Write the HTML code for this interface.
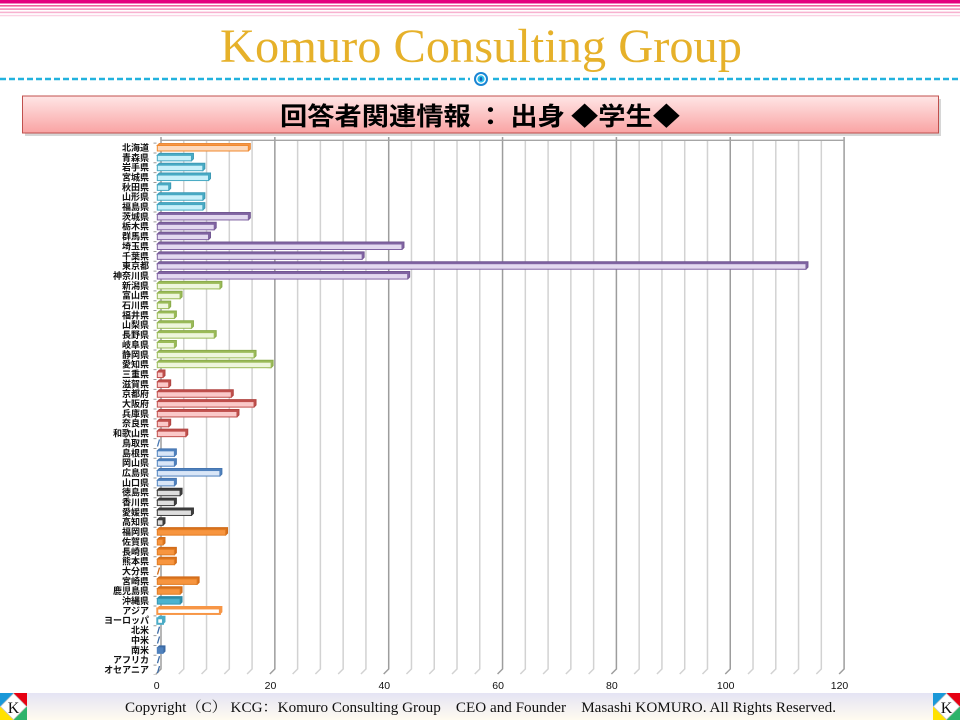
<!DOCTYPE html>
<html><head><meta charset="utf-8"><style>
html,body{margin:0;padding:0;background:#fff;}
svg{display:block;}
.lb text{font-family:"Liberation Sans","Noto Sans CJK JP",sans-serif;font-size:9px;font-weight:bold;fill:#111;text-anchor:end;}
.hk path{fill:#f79646;stroke:#e98a3a;stroke-width:1}.hk rect{fill:#fdd9bd;stroke:#f08a30;stroke-width:1}
.th path{fill:#4bacc6;stroke:#3c9ab5;stroke-width:1}.th rect{fill:#c9f0fa;stroke:#46a8c2;stroke-width:1}
.kt path{fill:#8064a2;stroke:#735893;stroke-width:1}.kt rect{fill:#e3d9f0;stroke:#8064a2;stroke-width:1}
.cb path{fill:#9bbb59;stroke:#8aab4a;stroke-width:1}.cb rect{fill:#eef6dc;stroke:#9bbb59;stroke-width:1}
.kk path{fill:#c0504d;stroke:#b04542;stroke-width:1}.kk rect{fill:#fbc9c9;stroke:#c0504d;stroke-width:1}
.cg path{fill:#4f81bd;stroke:#4575b0;stroke-width:1}.cg rect{fill:#d9e6f7;stroke:#4f81bd;stroke-width:1}
.sk path{fill:#404040;stroke:#333;stroke-width:1}.sk rect{fill:#dedede;stroke:#3a3a3a;stroke-width:1}
.ks path{fill:#d8701c;stroke:#d06c1a;stroke-width:1}.ks rect{fill:#f7953f;stroke:#e27d24;stroke-width:1}
.ok path{fill:#2f8aa6;stroke:#2f8aa6;stroke-width:1}.ok rect{fill:#4bb3d0;stroke:#3796b2;stroke-width:1}
.as path{fill:#f79646;stroke:#f79646;stroke-width:1}.as rect{fill:#fff;stroke:#f79646;stroke-width:2}
.eu path{fill:#4bacc6;stroke:#4bacc6;stroke-width:1}.eu rect{fill:#fff;stroke:#4bacc6;stroke-width:2}
.am path{fill:#3b6aa5;stroke:#3b6aa5;stroke-width:1}.am rect{fill:#4f81bd;stroke:#4f81bd;stroke-width:1}
.z path{fill:none;stroke-width:1.3}
</style></head><body>
<svg width="960" height="720" viewBox="0 0 960 720" xmlns="http://www.w3.org/2000/svg">
<defs>
<linearGradient id="tb" x1="0" y1="0" x2="0" y2="1"><stop offset="0" stop-color="#ffe6e6"/><stop offset="1" stop-color="#f9a3a3"/></linearGradient>
<linearGradient id="ft" x1="0" y1="0" x2="0" y2="1"><stop offset="0" stop-color="#e4e4f4"/><stop offset="1" stop-color="#fffbf0"/></linearGradient>
</defs>
<!-- header stripes -->
<rect x="0" y="0" width="960" height="3.5" fill="#e4007f"/>
<rect x="0" y="5" width="960" height="1.6" fill="#f0619f"/>
<rect x="0" y="8.3" width="960" height="1.6" fill="#f48fbb"/>
<rect x="0" y="11.6" width="960" height="1.6" fill="#f7b2d0"/>
<rect x="0" y="14.9" width="960" height="1.4" fill="#fbd2e4"/>
<!-- title -->
<text x="481" y="62" text-anchor="middle" textLength="522" lengthAdjust="spacingAndGlyphs" font-family="Liberation Serif, serif" font-size="48" fill="#e6b12a">Komuro Consulting Group</text>
<!-- dashed line -->
<line x1="0" y1="79" x2="470" y2="79" stroke="#22b2de" stroke-width="2.5" stroke-dasharray="6 3"/>
<line x1="493" y1="79" x2="960" y2="79" stroke="#22b2de" stroke-width="2.5" stroke-dasharray="6 3"/>
<circle cx="481" cy="79" r="7" fill="#1a86d4"/>
<circle cx="481" cy="79" r="5" fill="#fff"/>
<circle cx="481" cy="79" r="3.6" fill="#2cc0ea"/>
<ellipse cx="481" cy="79" rx="1.3" ry="2" fill="#1560b8"/>
<!-- title bar -->
<rect x="25" y="99" width="916" height="37" fill="#bbb" opacity="0.6"/>
<rect x="22.5" y="96" width="916" height="37" fill="url(#tb)" stroke="#c0504d" stroke-width="1"/>
<text x="480" y="125" text-anchor="middle" textLength="400" lengthAdjust="spacingAndGlyphs" font-family="Noto Sans CJK JP, sans-serif" font-size="25" font-weight="bold" fill="#000">回答者関連情報 ： 出身 ◆学生◆</text>
<!-- grid -->
<path d="M183.77,140V669l-5,5M206.54,140V669l-5,5M229.31,140V669l-5,5M252.08,140V669l-5,5M297.62,140V669l-5,5M320.39,140V669l-5,5M343.16,140V669l-5,5M365.93,140V669l-5,5M411.47,140V669l-5,5M434.24,140V669l-5,5M457.01,140V669l-5,5M479.78,140V669l-5,5M525.32,140V669l-5,5M548.09,140V669l-5,5M570.86,140V669l-5,5M593.63,140V669l-5,5M639.17,140V669l-5,5M661.94,140V669l-5,5M684.71,140V669l-5,5M707.48,140V669l-5,5M753.02,140V669l-5,5M775.79,140V669l-5,5M798.56,140V669l-5,5M821.33,140V669l-5,5" fill="none" stroke="#d2d2d2" stroke-width="1.5"/>
<path d="M161,137V669l-5,5M274.85,137V669l-5,5M388.7,137V669l-5,5M502.55,137V669l-5,5M616.4,137V669l-5,5M730.25,137V669l-5,5M844.1,137V669l-5,5" fill="none" stroke="#9d9d9d" stroke-width="1.5"/>
<line x1="161" y1="140.3" x2="844.1" y2="140.3" stroke="#a6a6a6" stroke-width="1.3"/>
<line x1="155" y1="142.6" x2="155" y2="675" stroke="#9a9a9a" stroke-width="3" stroke-dasharray="1 8.85"/>
<!-- bars -->
<g class="lb">
<g class="hk" transform="translate(0,147.5)"><text x="149" y="3.4">北海道</text><path d="M157.3,-2l2,-2h91.04v5.5l-2,2z"/><rect x="157.3" y="-2" width="91.04" height="5.5"/></g>
<g class="th" transform="translate(0,157.35)"><text x="149" y="3.4">青森県</text><path d="M157.3,-2l2,-2h34.14v5.5l-2,2z"/><rect x="157.3" y="-2" width="34.14" height="5.5"/></g>
<g class="th" transform="translate(0,167.2)"><text x="149" y="3.4">岩手県</text><path d="M157.3,-2l2,-2h45.52v5.5l-2,2z"/><rect x="157.3" y="-2" width="45.52" height="5.5"/></g>
<g class="th" transform="translate(0,177.05)"><text x="149" y="3.4">宮城県</text><path d="M157.3,-2l2,-2h51.21v5.5l-2,2z"/><rect x="157.3" y="-2" width="51.21" height="5.5"/></g>
<g class="th" transform="translate(0,186.9)"><text x="149" y="3.4">秋田県</text><path d="M157.3,-2l2,-2h11.38v5.5l-2,2z"/><rect x="157.3" y="-2" width="11.38" height="5.5"/></g>
<g class="th" transform="translate(0,196.75)"><text x="149" y="3.4">山形県</text><path d="M157.3,-2l2,-2h45.52v5.5l-2,2z"/><rect x="157.3" y="-2" width="45.52" height="5.5"/></g>
<g class="th" transform="translate(0,206.6)"><text x="149" y="3.4">福島県</text><path d="M157.3,-2l2,-2h45.52v5.5l-2,2z"/><rect x="157.3" y="-2" width="45.52" height="5.5"/></g>
<g class="kt" transform="translate(0,216.45)"><text x="149" y="3.4">茨城県</text><path d="M157.3,-2l2,-2h91.04v5.5l-2,2z"/><rect x="157.3" y="-2" width="91.04" height="5.5"/></g>
<g class="kt" transform="translate(0,226.3)"><text x="149" y="3.4">栃木県</text><path d="M157.3,-2l2,-2h56.9v5.5l-2,2z"/><rect x="157.3" y="-2" width="56.9" height="5.5"/></g>
<g class="kt" transform="translate(0,236.15)"><text x="149" y="3.4">群馬県</text><path d="M157.3,-2l2,-2h51.21v5.5l-2,2z"/><rect x="157.3" y="-2" width="51.21" height="5.5"/></g>
<g class="kt" transform="translate(0,246)"><text x="149" y="3.4">埼玉県</text><path d="M157.3,-2l2,-2h244.67v5.5l-2,2z"/><rect x="157.3" y="-2" width="244.67" height="5.5"/></g>
<g class="kt" transform="translate(0,255.85)"><text x="149" y="3.4">千葉県</text><path d="M157.3,-2l2,-2h204.84v5.5l-2,2z"/><rect x="157.3" y="-2" width="204.84" height="5.5"/></g>
<g class="kt" transform="translate(0,265.7)"><text x="149" y="3.4">東京都</text><path d="M157.3,-2l2,-2h648.66v5.5l-2,2z"/><rect x="157.3" y="-2" width="648.66" height="5.5"/></g>
<g class="kt" transform="translate(0,275.55)"><text x="149" y="3.4">神奈川県</text><path d="M157.3,-2l2,-2h250.36v5.5l-2,2z"/><rect x="157.3" y="-2" width="250.36" height="5.5"/></g>
<g class="cb" transform="translate(0,285.4)"><text x="149" y="3.4">新潟県</text><path d="M157.3,-2l2,-2h62.59v5.5l-2,2z"/><rect x="157.3" y="-2" width="62.59" height="5.5"/></g>
<g class="cb" transform="translate(0,295.25)"><text x="149" y="3.4">富山県</text><path d="M157.3,-2l2,-2h22.76v5.5l-2,2z"/><rect x="157.3" y="-2" width="22.76" height="5.5"/></g>
<g class="cb" transform="translate(0,305.1)"><text x="149" y="3.4">石川県</text><path d="M157.3,-2l2,-2h11.38v5.5l-2,2z"/><rect x="157.3" y="-2" width="11.38" height="5.5"/></g>
<g class="cb" transform="translate(0,314.95)"><text x="149" y="3.4">福井県</text><path d="M157.3,-2l2,-2h17.07v5.5l-2,2z"/><rect x="157.3" y="-2" width="17.07" height="5.5"/></g>
<g class="cb" transform="translate(0,324.8)"><text x="149" y="3.4">山梨県</text><path d="M157.3,-2l2,-2h34.14v5.5l-2,2z"/><rect x="157.3" y="-2" width="34.14" height="5.5"/></g>
<g class="cb" transform="translate(0,334.65)"><text x="149" y="3.4">長野県</text><path d="M157.3,-2l2,-2h56.9v5.5l-2,2z"/><rect x="157.3" y="-2" width="56.9" height="5.5"/></g>
<g class="cb" transform="translate(0,344.5)"><text x="149" y="3.4">岐阜県</text><path d="M157.3,-2l2,-2h17.07v5.5l-2,2z"/><rect x="157.3" y="-2" width="17.07" height="5.5"/></g>
<g class="cb" transform="translate(0,354.35)"><text x="149" y="3.4">静岡県</text><path d="M157.3,-2l2,-2h96.73v5.5l-2,2z"/><rect x="157.3" y="-2" width="96.73" height="5.5"/></g>
<g class="cb" transform="translate(0,364.2)"><text x="149" y="3.4">愛知県</text><path d="M157.3,-2l2,-2h113.8v5.5l-2,2z"/><rect x="157.3" y="-2" width="113.8" height="5.5"/></g>
<g class="kk" transform="translate(0,374.05)"><text x="149" y="3.4">三重県</text><path d="M157.3,-2l2,-2h5.69v5.5l-2,2z"/><rect x="157.3" y="-2" width="5.69" height="5.5"/></g>
<g class="kk" transform="translate(0,383.9)"><text x="149" y="3.4">滋賀県</text><path d="M157.3,-2l2,-2h11.38v5.5l-2,2z"/><rect x="157.3" y="-2" width="11.38" height="5.5"/></g>
<g class="kk" transform="translate(0,393.75)"><text x="149" y="3.4">京都府</text><path d="M157.3,-2l2,-2h73.97v5.5l-2,2z"/><rect x="157.3" y="-2" width="73.97" height="5.5"/></g>
<g class="kk" transform="translate(0,403.6)"><text x="149" y="3.4">大阪府</text><path d="M157.3,-2l2,-2h96.73v5.5l-2,2z"/><rect x="157.3" y="-2" width="96.73" height="5.5"/></g>
<g class="kk" transform="translate(0,413.45)"><text x="149" y="3.4">兵庫県</text><path d="M157.3,-2l2,-2h79.66v5.5l-2,2z"/><rect x="157.3" y="-2" width="79.66" height="5.5"/></g>
<g class="kk" transform="translate(0,423.3)"><text x="149" y="3.4">奈良県</text><path d="M157.3,-2l2,-2h11.38v5.5l-2,2z"/><rect x="157.3" y="-2" width="11.38" height="5.5"/></g>
<g class="kk" transform="translate(0,433.15)"><text x="149" y="3.4">和歌山県</text><path d="M157.3,-2l2,-2h28.45v5.5l-2,2z"/><rect x="157.3" y="-2" width="28.45" height="5.5"/></g>
<g class="cg z" transform="translate(0,443)"><text x="149" y="3.4">鳥取県</text><path d="M157.5,3.5l2,-7" stroke="#4f81bd"/></g>
<g class="cg" transform="translate(0,452.85)"><text x="149" y="3.4">島根県</text><path d="M157.3,-2l2,-2h17.07v5.5l-2,2z"/><rect x="157.3" y="-2" width="17.07" height="5.5"/></g>
<g class="cg" transform="translate(0,462.7)"><text x="149" y="3.4">岡山県</text><path d="M157.3,-2l2,-2h17.07v5.5l-2,2z"/><rect x="157.3" y="-2" width="17.07" height="5.5"/></g>
<g class="cg" transform="translate(0,472.55)"><text x="149" y="3.4">広島県</text><path d="M157.3,-2l2,-2h62.59v5.5l-2,2z"/><rect x="157.3" y="-2" width="62.59" height="5.5"/></g>
<g class="cg" transform="translate(0,482.4)"><text x="149" y="3.4">山口県</text><path d="M157.3,-2l2,-2h17.07v5.5l-2,2z"/><rect x="157.3" y="-2" width="17.07" height="5.5"/></g>
<g class="sk" transform="translate(0,492.25)"><text x="149" y="3.4">徳島県</text><path d="M157.3,-2l2,-2h22.76v5.5l-2,2z"/><rect x="157.3" y="-2" width="22.76" height="5.5"/></g>
<g class="sk" transform="translate(0,502.1)"><text x="149" y="3.4">香川県</text><path d="M157.3,-2l2,-2h17.07v5.5l-2,2z"/><rect x="157.3" y="-2" width="17.07" height="5.5"/></g>
<g class="sk" transform="translate(0,511.95)"><text x="149" y="3.4">愛媛県</text><path d="M157.3,-2l2,-2h34.14v5.5l-2,2z"/><rect x="157.3" y="-2" width="34.14" height="5.5"/></g>
<g class="sk" transform="translate(0,521.8)"><text x="149" y="3.4">高知県</text><path d="M157.3,-2l2,-2h5.69v5.5l-2,2z"/><rect x="157.3" y="-2" width="5.69" height="5.5"/></g>
<g class="ks" transform="translate(0,531.65)"><text x="149" y="3.4">福岡県</text><path d="M157.3,-2l2,-2h68.28v5.5l-2,2z"/><rect x="157.3" y="-2" width="68.28" height="5.5"/></g>
<g class="ks" transform="translate(0,541.5)"><text x="149" y="3.4">佐賀県</text><path d="M157.3,-2l2,-2h5.69v5.5l-2,2z"/><rect x="157.3" y="-2" width="5.69" height="5.5"/></g>
<g class="ks" transform="translate(0,551.35)"><text x="149" y="3.4">長崎県</text><path d="M157.3,-2l2,-2h17.07v5.5l-2,2z"/><rect x="157.3" y="-2" width="17.07" height="5.5"/></g>
<g class="ks" transform="translate(0,561.2)"><text x="149" y="3.4">熊本県</text><path d="M157.3,-2l2,-2h17.07v5.5l-2,2z"/><rect x="157.3" y="-2" width="17.07" height="5.5"/></g>
<g class="ks z" transform="translate(0,571.05)"><text x="149" y="3.4">大分県</text><path d="M157.5,3.5l2,-7" stroke="#e07b2a"/></g>
<g class="ks" transform="translate(0,580.9)"><text x="149" y="3.4">宮崎県</text><path d="M157.3,-2l2,-2h39.83v5.5l-2,2z"/><rect x="157.3" y="-2" width="39.83" height="5.5"/></g>
<g class="ks" transform="translate(0,590.75)"><text x="149" y="3.4">鹿児島県</text><path d="M157.3,-2l2,-2h22.76v5.5l-2,2z"/><rect x="157.3" y="-2" width="22.76" height="5.5"/></g>
<g class="ok" transform="translate(0,600.6)"><text x="149" y="3.4">沖縄県</text><path d="M157.3,-2l2,-2h22.76v5.5l-2,2z"/><rect x="157.3" y="-2" width="22.76" height="5.5"/></g>
<g class="as" transform="translate(0,610.45)"><text x="149" y="3.4">アジア</text><path d="M157.3,-2l2,-2h62.59v5.5l-2,2z"/><rect x="157.3" y="-2" width="62.59" height="5.5"/></g>
<g class="eu" transform="translate(0,620.3)"><text x="149" y="3.4">ヨーロッパ</text><path d="M157.3,-2l2,-2h5.69v5.5l-2,2z"/><rect x="157.3" y="-2" width="5.69" height="5.5"/></g>
<g class="am z" transform="translate(0,630.15)"><text x="149" y="3.4">北米</text><path d="M157.5,3.5l2,-7" stroke="#4f81bd"/></g>
<g class="am z" transform="translate(0,640)"><text x="149" y="3.4">中米</text><path d="M157.5,3.5l2,-7" stroke="#4f81bd"/></g>
<g class="am" transform="translate(0,649.85)"><text x="149" y="3.4">南米</text><path d="M157.3,-2l2,-2h5.69v5.5l-2,2z"/><rect x="157.3" y="-2" width="5.69" height="5.5"/></g>
<g class="am z" transform="translate(0,659.7)"><text x="149" y="3.4">アフリカ</text><path d="M157.5,3.5l2,-7" stroke="#4f81bd"/></g>
<g class="am z" transform="translate(0,669.55)"><text x="149" y="3.4">オセアニア</text><path d="M157.5,3.5l2,-7" stroke="#4f81bd"/></g>
</g>
<!-- x labels -->
<g font-family="Liberation Sans, sans-serif" font-size="10.5" fill="#111" text-anchor="middle">
<text x="156.7" y="689">0</text>
<text x="270.5" y="689">20</text>
<text x="384.3" y="689">40</text>
<text x="498.1" y="689">60</text>
<text x="611.9" y="689">80</text>
<text x="725.7" y="689">100</text>
<text x="839.5" y="689">120</text>
</g>
<!-- footer -->
<rect x="0" y="693" width="960" height="27" fill="url(#ft)"/>
<text x="125" y="712" textLength="711" lengthAdjust="spacingAndGlyphs" font-family="Liberation Serif, Noto Serif CJK SC, serif" font-size="14.5" fill="#111">Copyright（C） KCG：Komuro Consulting Group　CEO and Founder　Masashi KOMURO. All Rights Reserved.</text>
<g id="klogo">
<polygon points="0,693 13.5,693 0,706.5" fill="#1a98d8"/>
<polygon points="13.5,693 27,693 27,706.5" fill="#e60012"/>
<polygon points="0,706.5 0,720 13.5,720" fill="#ffe100"/>
<polygon points="27,706.5 27,720 13.5,720" fill="#2db36b"/>
<polygon points="13.5,693.5 26.5,706.5 13.5,719.5 0.5,706.5" fill="#fff" stroke="#bbb" stroke-width="0.6"/>
<text x="13.5" y="713" text-anchor="middle" font-family="Liberation Serif, serif" font-size="16" fill="#111">K</text>
</g>
<g transform="translate(933,0)">
<polygon points="0,693 13.5,693 0,706.5" fill="#1a98d8"/>
<polygon points="13.5,693 27,693 27,706.5" fill="#e60012"/>
<polygon points="0,706.5 0,720 13.5,720" fill="#ffe100"/>
<polygon points="27,706.5 27,720 13.5,720" fill="#2db36b"/>
<polygon points="13.5,693.5 26.5,706.5 13.5,719.5 0.5,706.5" fill="#fff" stroke="#bbb" stroke-width="0.6"/>
<text x="13.5" y="713" text-anchor="middle" font-family="Liberation Serif, serif" font-size="16" fill="#111">K</text>
</g>
</svg>
</body></html>
